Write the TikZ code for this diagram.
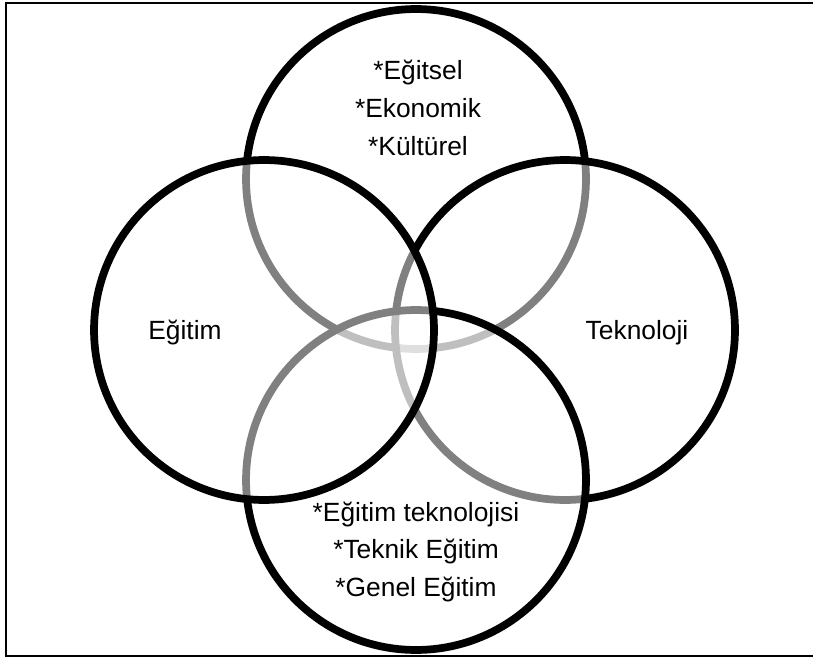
\documentclass[tikz,border=0pt]{standalone}
\usepackage{fontspec}
\setmainfont{Liberation Sans}
\usetikzlibrary{positioning}

\begin{document}
\begin{tikzpicture}[
    x=0.02cm, y=-0.02cm,
    venn/.style={draw, circle, line width=4.4pt, fill=white, fill opacity=0.5, inner sep=0pt, minimum size=6.8cm},
    txt/.style={font=\fontsize{15}{21.5}\selectfont, align=center, text opacity=1},
]
\useasboundingbox (0,0) rectangle (813,658);
\draw[line width=1.2pt] (6,3) rectangle (830,656);

% circles, drawn in this order
\node[venn] (top) at (416,179) {};
\node[venn] (right) at (565,330) {};
\node[venn] (bottom) at (416,480) {};
\node[venn] (left) at (264,330) {};

% texts
\node[txt] (topText) at (418,108) {*Eğitsel\\*Ekonomik\\*Kültürel};
\node[txt] (leftText) at (185,333) {Eğitim};
\node[txt] (rightText) at (637,333) {Teknoloji};
\node[txt] (bottomText) at (416,552) {*Eğitim teknolojisi\\*Teknik Eğitim\\*Genel Eğitim};
\end{tikzpicture}
\end{document}
